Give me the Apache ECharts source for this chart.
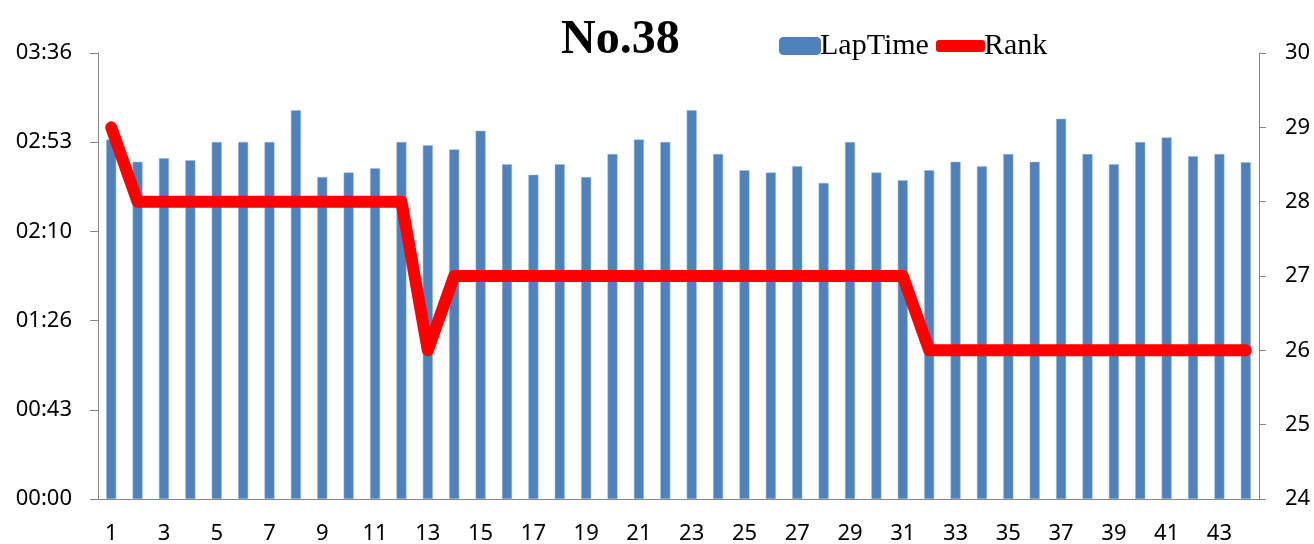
<!DOCTYPE html>
<html>
<head>
<meta charset="utf-8">
<script src="https://cdn.jsdelivr.net/npm/echarts@6/dist/echarts.min.js"></script>
<style>
  html, body { margin: 0; padding: 0; background: #fff; }
  #chart { width: 1314px; height: 544px; }
</style>
</head>
<body>
<div id="chart"></div>
<script>
// laps 1..44
const laps = Array.from({ length: 44 }, (_, i) => String(i + 1));

// lap times in seconds
const lapTime = [
  174.1, 163.3, 165.0, 164.1, 172.9, 172.9, 172.9, 188.3, 155.9, 158.1,
  160.2, 172.9, 171.3, 169.3, 178.3, 162.1, 157.0, 162.1, 155.9, 167.1,
  174.1, 172.9, 188.3, 167.1, 159.2, 158.1, 161.2, 153.1, 172.9, 158.1,
  154.4, 159.2, 163.3, 161.2, 167.1, 163.3, 184.1, 167.1, 162.1, 172.9,
  175.1, 166.0, 167.1, 163.1
];

const rank = [
  29, 28, 28, 28, 28, 28, 28, 28, 28, 28,
  28, 28, 26, 27, 27, 27, 27, 27, 27, 27,
  27, 27, 27, 27, 27, 27, 27, 27, 27, 27,
  27, 26, 26, 26, 26, 26, 26, 26, 26, 26,
  26, 26, 26, 26
];

// time axis worked in tenths of a second so the step is a whole number
const timeMax = 2160;    // 03:36
const timeStep = 432;    // 00:43.2
const rankMin = 24;
const rankMax = 30;

function mmss(v) {
  const s = Math.round(v / 10);
  const m = Math.floor(s / 60);
  const r = s % 60;
  return String(m).padStart(2, "0") + ":" + String(r).padStart(2, "0");
}

const axisColor = "#868686";
const labelFont = { color: "#000", fontFamily: "Noto Sans", fontSize: 22 };

const chart = echarts.init(document.getElementById("chart"), null, { renderer: "canvas" });
chart.setOption({
  animation: false,
  backgroundColor: "#fff",
  title: {
    text: "No.38",
    left: 556,
    top: 12,
    textStyle: { fontFamily: "Liberation Serif", fontWeight: "bold", fontSize: 48, color: "#000" },
  },
  legend: [
    {
      data: ["LapTime"],
      left: 774,
      top: 26,
      itemWidth: 42,
      itemHeight: 18,
      itemStyle: { borderWidth: 0 },
      textStyle: { fontFamily: "Liberation Serif", fontSize: 30, color: "#000", padding: [0, 0, 0, -6] },
    },
    {
      data: [{ name: "Rank", icon: "roundRect" }],
      left: 931,
      top: 26,
      itemWidth: 49,
      itemHeight: 12,
      textStyle: { fontFamily: "Liberation Serif", fontSize: 30, color: "#000", padding: [0, 0, 0, -6] },
    },
  ],
  grid: { left: 98, right: 55, top: 53, bottom: 45, outerBoundsMode: "none" },
  xAxis: {
    type: "category",
    data: laps,
    axisLine: { lineStyle: { color: axisColor, width: 1 } },
    axisTick: { interval: 0, length: 8, lineStyle: { color: axisColor } },
    axisLabel: { ...labelFont, interval: 1, margin: 24 },
  },
  yAxis: [
    {
      // rank axis first, on the right
      type: "value",
      min: rankMin,
      max: rankMax,
      interval: 1,
      position: "right",
      axisLine: { show: true, onZero: false, lineStyle: { color: axisColor } },
      axisTick: { show: true, length: 7, lineStyle: { color: axisColor } },
      splitLine: { show: false },
      axisLabel: { ...labelFont, margin: 26 },
    },
    {
      // lap time axis, on the left
      type: "value",
      min: 0,
      max: timeMax,
      interval: timeStep,
      position: "left",
      axisLine: { show: true, onZero: false, lineStyle: { color: axisColor } },
      axisTick: { show: true, length: 8, lineStyle: { color: axisColor } },
      splitLine: { show: false },
      axisLabel: { ...labelFont, margin: 26, formatter: mmss },
    },
  ],
  series: [
    {
      name: "LapTime",
      type: "bar",
      yAxisIndex: 1,
      data: lapTime.map((s) => Math.round(s * 10)),
      barWidth: 10,
      itemStyle: { color: "#4F81BD", borderColor: "#9db7d8", borderWidth: 0.5 },
    },
    {
      name: "Rank",
      type: "line",
      yAxisIndex: 0,
      data: rank,
      symbol: "none",
      z: 5,
      itemStyle: { color: "#FF0000" },
      lineStyle: { color: "#FF0000", width: 12, cap: "round", join: "round" },
    },
  ],
});
</script>
</body>
</html>
